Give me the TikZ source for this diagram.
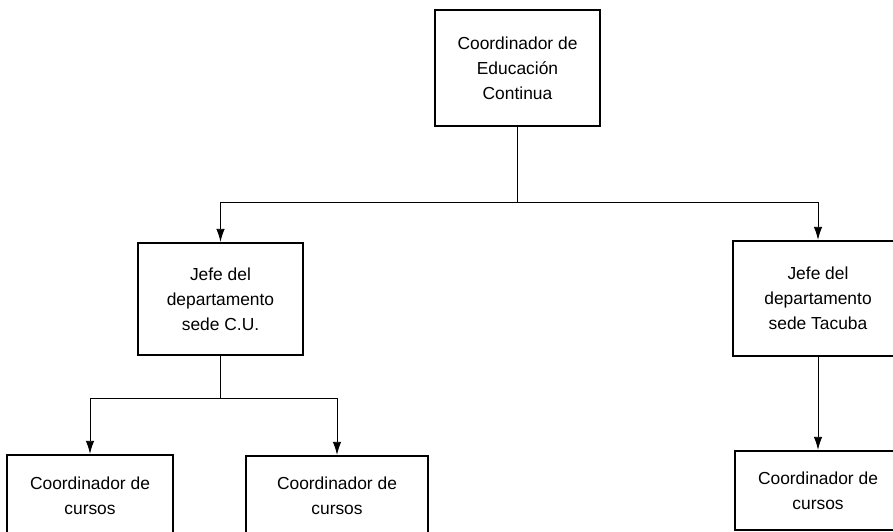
\documentclass[tikz,border=0pt]{standalone}
\usepackage{fontspec}
\setmainfont{Liberation Sans}
\usetikzlibrary{arrows.meta}
\begin{document}
\begin{tikzpicture}[x=1pt,y=-1pt,
  box/.style={draw=black, line width=2.4pt, fill=white, align=center, inner sep=0pt,
    font=\fontsize{17.4}{25}\selectfont},
  conn/.style={draw=black, line width=0.9pt},
  arr/.style={conn, -{Latex[length=13pt,width=8.5pt]}}]
\useasboundingbox (0,0) rectangle (893,531);
\fill[white] (0,0) rectangle (893,531);
\node[box, minimum width=165pt, minimum height=116pt] (top) at (517.5,68) {Coordinador de\\Educación\\Continua};
\node[box, minimum width=165pt, minimum height=112pt] (lm) at (220.5,299) {Jefe del\\departamento\\sede C.U.};
\node[box, minimum width=170pt, minimum height=115pt] (rm) at (818,298.5) {Jefe del\\departamento\\sede Tacuba};
\node[box, minimum width=166pt, minimum height=82pt] (bl) at (90,496) {Coordinador de\\cursos};
\node[box, minimum width=182pt, minimum height=80pt] (bm) at (337,496) {Coordinador de\\cursos};
\node[box, minimum width=166pt, minimum height=79pt] (br) at (818,490.5) {Coordinador de\\cursos};
\coordinate (j1) at (517.5,202);
\coordinate (j2) at (220.5,398);
\draw[conn] (top.south) -- (j1);
\draw[arr] (j1) -| (lm.north);
\draw[arr] (j1) -| (rm.north);
\draw[conn] (lm.south) -- (j2);
\draw[arr] (j2) -| (bl.north);
\draw[arr] (j2) -| (bm.north);
\draw[arr] (rm.south) -- (br.north);
\end{tikzpicture}
\end{document}
